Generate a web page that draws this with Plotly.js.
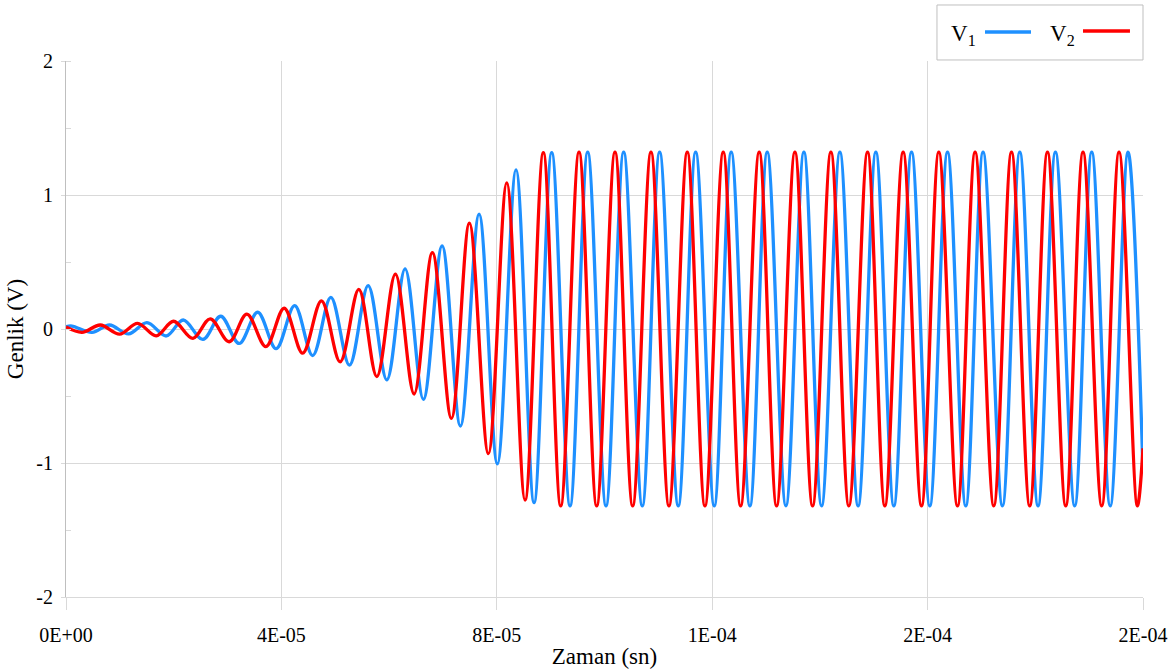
<!DOCTYPE html>
<html>
<head>
<meta charset="utf-8">
<script src="https://cdn.plot.ly/plotly-3.0.1.min.js"></script>
<style>
html, body { margin: 0; padding: 0; background: #ffffff; }
#chart { width: 1176px; height: 670px; }
</style>
</head>
<body>
<div id="chart"></div>
<script>
// Times (microseconds) of the turning points, with start and end samples
const v1TimeUs = [0, 1.11, 4.83, 8.09, 11.62, 15.03, 18.62, 21.77, 25.43, 28.73, 32.16, 35.60, 39.03, 42.46, 45.81, 49.18, 52.64, 56.11, 59.58, 62.97, 66.37, 69.84, 73.24, 76.71, 80.10, 83.57, 86.92, 90.20, 93.60, 96.88, 100.28, 103.56, 107.02, 110.24, 113.70, 116.93, 120.38, 123.53, 127.00, 130.22, 133.69, 137.03, 140.31, 143.71, 147.10, 150.39, 153.73, 157.02, 160.41, 163.70, 167.09, 170.30, 173.90, 177.12, 180.51, 183.74, 187.32, 190.48, 193.91, 197.22, 200];
const v1Volt = [0.017, 0.022, -0.025, 0.03, -0.037, 0.047, -0.052, 0.067, -0.078, 0.095, -0.108, 0.125, -0.147, 0.174, -0.198, 0.236, -0.27, 0.323, -0.38, 0.448, -0.525, 0.62, -0.724, 0.858, -1.007, 1.187, -1.296, 1.316, -1.32, 1.32, -1.32, 1.32, -1.32, 1.32, -1.32, 1.32, -1.32, 1.32, -1.32, 1.32, -1.32, 1.32, -1.32, 1.32, -1.32, 1.32, -1.32, 1.32, -1.32, 1.32, -1.32, 1.32, -1.32, 1.32, -1.32, 1.32, -1.32, 1.32, -1.32, 1.32, -1.065];

const v2TimeUs = [0, 2.97, 6.37, 9.95, 13.29, 16.76, 19.97, 23.57, 26.78, 30.31, 33.59, 37.12, 40.52, 43.95, 47.44, 50.91, 54.38, 57.72, 61.17, 64.64, 68.04, 71.57, 74.91, 78.43, 81.85, 85.25, 88.64, 91.87, 95.27, 98.55, 101.95, 105.23, 108.63, 111.97, 115.37, 118.65, 122.05, 125.28, 128.73, 131.96, 135.36, 138.64, 142.04, 145.38, 148.85, 152.06, 155.46, 158.87, 162.08, 165.55, 168.82, 172.29, 175.58, 178.97, 182.26, 185.65, 188.86, 192.34, 195.55, 198.96, 200];
const v2Volt = [0.015, -0.025, 0.03, -0.038, 0.042, -0.051, 0.058, -0.07, 0.076, -0.095, 0.111, -0.131, 0.155, -0.18, 0.21, -0.245, 0.295, -0.355, 0.41, -0.485, 0.57, -0.667, 0.79, -0.93, 1.09, -1.276, 1.316, -1.32, 1.32, -1.32, 1.32, -1.32, 1.32, -1.32, 1.32, -1.32, 1.32, -1.32, 1.32, -1.32, 1.32, -1.32, 1.32, -1.32, 1.32, -1.32, 1.32, -1.32, 1.32, -1.32, 1.32, -1.32, 1.32, -1.32, 1.32, -1.32, 1.32, -1.32, 1.32, -1.32, -0.89];

const seriesNames = ['V<sub>1</sub>', 'V<sub>2</sub>'];
const seriesColors = ['#1e90ff', '#ff0000'];

const xTickVals = [0, 4e-5, 8e-5, 1.2e-4, 1.6e-4, 2e-4];
const xTickText = ['0E+00', '4E-05', '8E-05', '1E-04', '2E-04', '2E-04'];
const yTickVals = [-2, -1, 0, 1, 2];
const yTickText = ['-2', '-1', '0', '1', '2'];

const xTitle = 'Zaman (sn)';
const yTitle = 'Genlik (V)';

const toSeconds = arr => arr.map(t => t * 1e-6);

const FONT = 'Liberation Serif';
const GRID = '#d9d9d9';

const traces = [
  {
    x: toSeconds(v1TimeUs), y: v1Volt, type: 'scatter', mode: 'lines',
    name: seriesNames[0], showlegend: false,
    line: { color: seriesColors[0], width: 3.3, shape: 'spline', smoothing: 1, simplify: false }
  },
  {
    x: toSeconds(v2TimeUs), y: v2Volt, type: 'scatter', mode: 'lines',
    name: seriesNames[1], showlegend: false,
    line: { color: seriesColors[1], width: 3.3, shape: 'spline', smoothing: 1, simplify: false }
  }
];

// custom legend (text first, then line sample) like the reference
const legendShapes = [
  { type: 'rect', xref: 'paper', yref: 'paper', x0: 0.8087, x1: 1.0, y0: 1.0019, y1: 1.1045,
    line: { color: '#bfbfbf', width: 1 }, fillcolor: '#ffffff', layer: 'above' },
  { type: 'line', xref: 'paper', yref: 'paper', x0: 0.8533, x1: 0.8960, y0: 1.0541, y1: 1.0541,
    line: { color: seriesColors[0], width: 3.3 }, layer: 'above' },
  { type: 'line', xref: 'paper', yref: 'paper', x0: 0.9443, x1: 0.9879, y0: 1.0560, y1: 1.0560,
    line: { color: seriesColors[1], width: 3.3 }, layer: 'above' }
];
const legendTexts = [
  { xref: 'paper', yref: 'paper', x: 0.8199, y: 1.0485, xanchor: 'left', yanchor: 'middle',
    text: seriesNames[0], showarrow: false, font: { family: FONT, size: 23, color: '#000' } },
  { xref: 'paper', yref: 'paper', x: 0.9118, y: 1.0485, xanchor: 'left', yanchor: 'middle',
    text: seriesNames[1], showarrow: false, font: { family: FONT, size: 23, color: '#000' } }
];

const layout = {
  width: 1176, height: 670,
  margin: { l: 66, r: 33, t: 61, b: 73, autoexpand: false },
  paper_bgcolor: '#ffffff', plot_bgcolor: '#ffffff',
  font: { family: FONT, size: 20, color: '#000000' },
  showlegend: false,
  xaxis: {
    range: [0, 2e-4], tickmode: 'array', tickvals: xTickVals, ticktext: xTickText,
    showgrid: true, gridcolor: GRID, gridwidth: 1,
    ticks: 'outside', ticklen: 12, tickcolor: GRID, tickwidth: 1,
    ticklabelstandoff: 8,
    showline: true, linecolor: GRID, linewidth: 1,
    zeroline: false, automargin: false,
    tickfont: { family: FONT, size: 20, color: '#000' },
    title: { text: xTitle, font: { family: FONT, size: 23, color: '#000' }, standoff: 2 }
  },
  yaxis: {
    range: [-2, 2], tickmode: 'array', tickvals: yTickVals, ticktext: yTickText,
    showgrid: true, gridcolor: GRID, gridwidth: 1,
    ticks: 'outside', ticklen: 4, tickcolor: GRID, tickwidth: 1,
    ticklabelstandoff: 4,
    minor: { dtick: 0.5, ticks: 'inside', ticklen: 5, tickcolor: GRID, showgrid: false },
    showline: true, linecolor: '#bfbfbf', linewidth: 1,
    zeroline: false, automargin: false,
    tickfont: { family: FONT, size: 20, color: '#000' },
    title: { text: yTitle, font: { family: FONT, size: 23, color: '#000' }, standoff: 6 }
  },
  shapes: legendShapes,
  annotations: legendTexts
};

Plotly.newPlot('chart', traces, layout, { displayModeBar: false, staticPlot: true });
</script>
</body>
</html>
